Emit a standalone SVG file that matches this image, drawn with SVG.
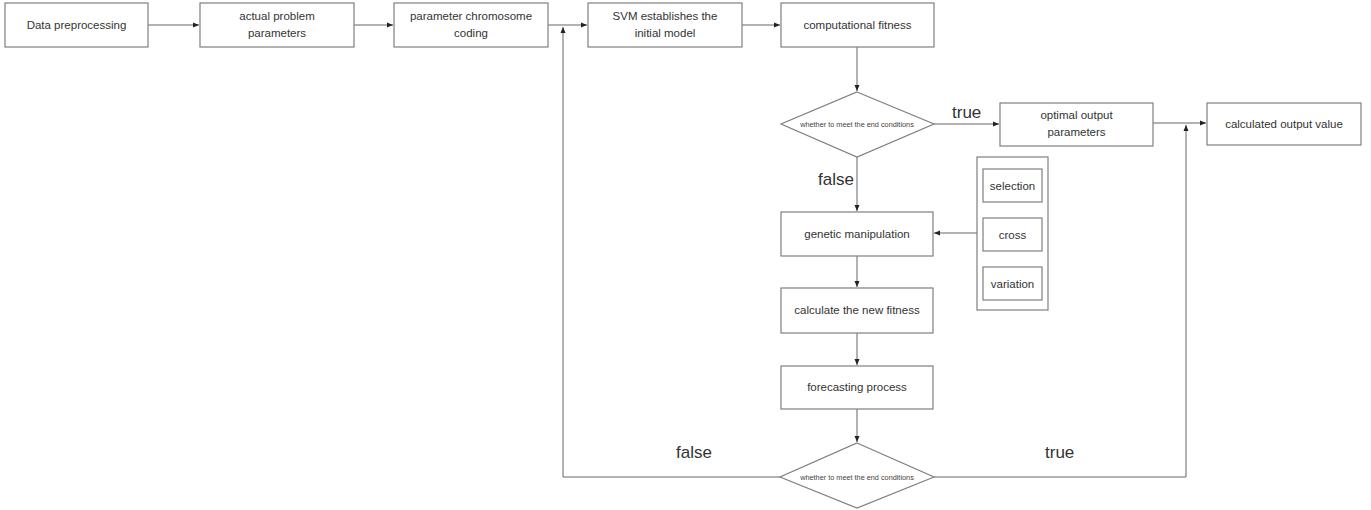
<svg xmlns="http://www.w3.org/2000/svg" width="1371" height="510" viewBox="0 0 1371 510">
<defs>
<style>
.box{fill:#fff;stroke:#7f7f7f;stroke-width:1.2}
.t{font-family:"Liberation Sans",Arial,sans-serif;font-size:11.5px;fill:#333;text-anchor:middle}
.s{font-family:"Liberation Sans",Arial,sans-serif;font-size:7.3px;fill:#444;text-anchor:middle}
.lbl{font-family:"Liberation Sans",Arial,sans-serif;font-size:17px;fill:#333}
.ln{fill:none;stroke:#666;stroke-width:1}
</style>
<marker id="ah" viewBox="0 0 6 6" refX="6" refY="3" markerWidth="6" markerHeight="6" orient="auto" markerUnits="userSpaceOnUse">
<path d="M0,0.5 L6,3 L0,5.5 z" fill="#222"/>
</marker>
</defs>
<rect width="1371" height="510" fill="#fff"/>
<g id="connectors">
<line class="ln" x1="148" y1="25" x2="199" y2="25" marker-end="url(#ah)"/>
<line class="ln" x1="354" y1="25" x2="393" y2="25" marker-end="url(#ah)"/>
<line class="ln" x1="548" y1="25" x2="587" y2="25" marker-end="url(#ah)"/>
<line class="ln" x1="742" y1="25" x2="780" y2="25" marker-end="url(#ah)"/>
<line class="ln" x1="857" y1="47" x2="857" y2="91" marker-end="url(#ah)"/>
<line class="ln" x1="934" y1="124" x2="999" y2="124" marker-end="url(#ah)"/>
<line class="ln" x1="1153" y1="123" x2="1206" y2="123" marker-end="url(#ah)"/>
<line class="ln" x1="857" y1="157" x2="857" y2="211" marker-end="url(#ah)"/>
<line class="ln" x1="977" y1="233" x2="934" y2="233" marker-end="url(#ah)"/>
<line class="ln" x1="857" y1="256" x2="857" y2="287" marker-end="url(#ah)"/>
<line class="ln" x1="857" y1="333" x2="857" y2="365" marker-end="url(#ah)"/>
<line class="ln" x1="857" y1="409" x2="857" y2="442" marker-end="url(#ah)"/>
<polyline class="ln" points="780,477 563,477 563,27" marker-end="url(#ah)"/>
<polyline class="ln" points="934,477 1186,477 1186,125" marker-end="url(#ah)"/>
<text class="lbl" x="952" y="118">true</text>
<text class="lbl" x="818" y="185">false</text>
<text class="lbl" x="676" y="458">false</text>
<text class="lbl" x="1045" y="458">true</text>
</g>
<g id="n1"><rect class="box" x="5" y="3" width="143" height="44"/><text class="t" x="76.5" y="29">Data preprocessing</text></g>
<g id="n2"><rect class="box" x="200" y="3" width="154" height="44"/><text class="t" x="277" y="20">actual problem</text><text class="t" x="277" y="37">parameters</text></g>
<g id="n3"><rect class="box" x="394" y="3" width="154" height="44"/><text class="t" x="471" y="20">parameter chromosome</text><text class="t" x="471" y="37">coding</text></g>
<g id="n4"><rect class="box" x="588" y="3" width="154" height="44"/><text class="t" x="665" y="20">SVM establishes the</text><text class="t" x="665" y="37">initial model</text></g>
<g id="n5"><rect class="box" x="781" y="3" width="153" height="44"/><text class="t" x="857.5" y="29">computational fitness</text></g>
<g id="d1"><polygon class="box" points="857,92 934,124 857,157 781,124"/><text class="s" x="857" y="127">whether to meet the end conditions</text></g>
<g id="n6"><rect class="box" x="1000" y="103" width="153" height="43"/><text class="t" x="1076.5" y="119">optimal output</text><text class="t" x="1076.5" y="136">parameters</text></g>
<g id="n7"><rect class="box" x="1207" y="103" width="154" height="42"/><text class="t" x="1284" y="128">calculated output value</text></g>
<g id="n8"><rect class="box" x="781" y="212" width="152" height="44"/><text class="t" x="857" y="238">genetic manipulation</text></g>
<g id="panel"><rect class="box" x="977" y="157" width="71" height="153"/>
<g id="n9"><rect class="box" x="983" y="169" width="59" height="33"/><text class="t" x="1012.5" y="190">selection</text></g>
<g id="n10"><rect class="box" x="983" y="218" width="59" height="33"/><text class="t" x="1012.5" y="239">cross</text></g>
<g id="n11"><rect class="box" x="983" y="267" width="59" height="33"/><text class="t" x="1012.5" y="288">variation</text></g>
</g>
<g id="n12"><rect class="box" x="781" y="288" width="152" height="45"/><text class="t" x="857" y="314">calculate the new fitness</text></g>
<g id="n13"><rect class="box" x="781" y="366" width="152" height="43"/><text class="t" x="857" y="391">forecasting process</text></g>
<g id="d2"><polygon class="box" points="857,443 934,477 857,508 780,477"/><text class="s" x="857" y="480">whether to meet the end conditions</text></g>
</svg>
